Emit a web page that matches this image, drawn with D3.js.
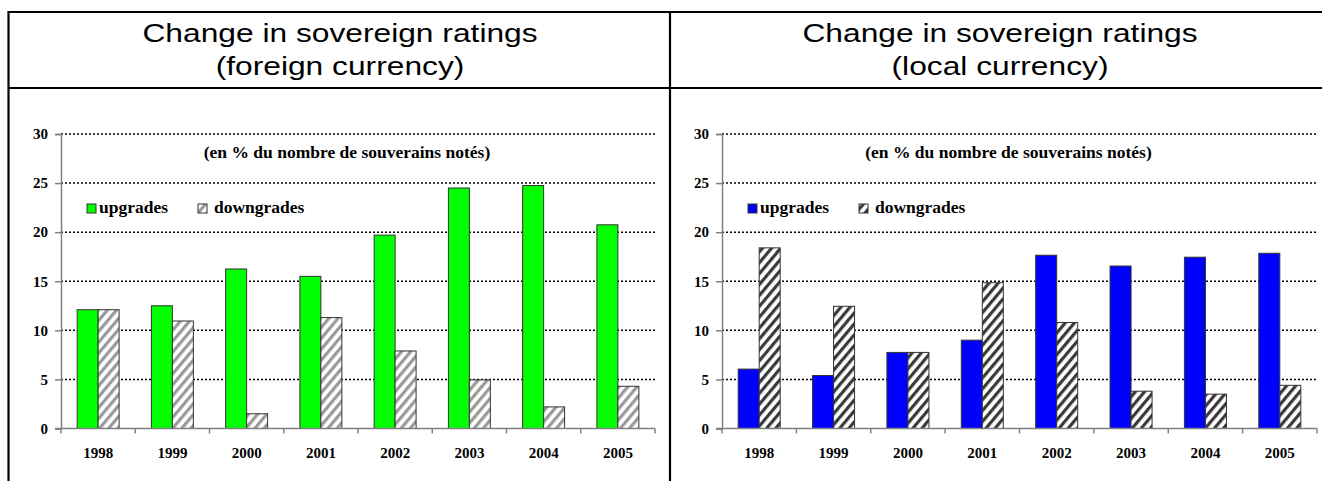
<!DOCTYPE html>
<html>
<head>
<meta charset="utf-8">
<script src="https://cdn.jsdelivr.net/npm/d3@7"></script>
<style>
  html, body { margin: 0; padding: 0; background: #fff; }
  svg { display: block; }
</style>
</head>
<body>
<svg id="chart" width="1322" height="481"></svg>
<script>
// ---------------- DATA ----------------
const years = ["1998", "1999", "2000", "2001", "2002", "2003", "2004", "2005"];
const seriesNames = ["upgrades", "downgrades"];
const foreignUpgrades   = [12.1, 12.5, 16.25, 15.5, 19.7, 24.5, 24.75, 20.75];
const foreignDowngrades = [12.1, 10.95, 1.5, 11.3, 7.9, 4.95, 2.2, 4.3];
const localUpgrades     = [6.05, 5.4, 7.75, 9.0, 17.65, 16.55, 17.45, 17.85];
const localDowngrades   = [18.4, 12.45, 7.75, 14.85, 10.8, 3.8, 3.5, 4.4];
const yTicks = [0, 5, 10, 15, 20, 25, 30];
const titleLine1 = "Change in sovereign ratings";
const foreignTitle2 = "(foreign currency)";
const localTitle2 = "(local currency)";
const subtitle = "(en % du nombre de souverains notés)";

// ---------------- LAYOUT ----------------
const svg = d3.select("#chart");
const serif = "'Liberation Serif', 'Times New Roman', serif";
const sans = "'Liberation Sans', Arial, sans-serif";

const defs = svg.append("defs");
function hatch(id, color) {
  const p = defs.append("pattern")
    .attr("id", id).attr("patternUnits", "userSpaceOnUse")
    .attr("width", 7).attr("height", 7)
    .attr("patternTransform", "rotate(40)");
  p.append("rect").attr("width", 7).attr("height", 7).attr("fill", "#fff");
  p.append("rect").attr("x", 0).attr("y", 0).attr("width", 3.2).attr("height", 7).attr("fill", color);
}
hatch("hatchGrey", "#9a9a9a");
hatch("hatchDark", "#3a3a3a");

const panels = [
  { left: 8, right: 670, axisX: 61, plotRight: 655, titleX: 340,
    title2: foreignTitle2, up: foreignUpgrades, down: foreignDowngrades,
    upColor: "#00ff00", hatch: "url(#hatchGrey)" },
  { left: 670, right: 1330, axisX: 722, plotRight: 1317, titleX: 1000,
    title2: localTitle2, up: localUpgrades, down: localDowngrades,
    upColor: "#0000ff", hatch: "url(#hatchDark)" }
];

const yScale = d3.scaleLinear().domain([0, 30]).range([428.5, 134]);

panels.forEach(P => {
  const g = svg.append("g");

  // titles (horizontally stretched Arial)
  const tg = g.append("g").attr("transform", `translate(${P.titleX},0) scale(1.27,1)`);
  tg.append("text").attr("x", 0).attr("y", 42).attr("text-anchor", "middle")
    .style("font-family", sans).style("font-size", "25px").text(titleLine1);
  tg.append("text").attr("x", 0).attr("y", 75).attr("text-anchor", "middle")
    .style("font-family", sans).style("font-size", "25px").text(P.title2);

  const x0 = d3.scaleBand().domain(years).range([P.axisX, P.plotRight])
    .paddingInner(0.435).paddingOuter(0.2175);
  const x1 = d3.scaleBand().domain(seriesNames).range([0, x0.bandwidth()]);

  // gridlines
  g.append("g").selectAll("line").data(yTicks.filter(d => d > 0)).join("line")
    .attr("x1", P.axisX).attr("x2", P.plotRight)
    .attr("y1", d => yScale(d)).attr("y2", d => yScale(d))
    .attr("stroke", "#000").attr("stroke-width", 1.5).attr("stroke-dasharray", "2,2");

  // y axis
  const yAxis = d3.axisLeft(yScale).tickValues(yTicks).tickSize(6).tickPadding(7);
  const ya = g.append("g").attr("transform", `translate(${P.axisX},0)`).call(yAxis);
  ya.select(".domain").attr("stroke", "#808080").attr("stroke-width", 1.5);
  ya.selectAll(".tick line").attr("stroke", "#808080").attr("stroke-width", 1.5);
  ya.selectAll(".tick text").style("font-family", serif).style("font-size", "15px")
    .style("font-weight", "bold").attr("fill", "#000");

  // subtitle
  g.append("text")
    .attr("x", (P.axisX + P.plotRight) / 2 - 11).attr("y", 158)
    .attr("text-anchor", "middle")
    .style("font-family", serif).style("font-size", "17.5px").style("font-weight", "bold")
    .text(subtitle);

  // bars
  const rows = years.map((y, i) => ({ year: y, vals: [P.up[i], P.down[i]] }));
  const bg = g.append("g");
  rows.forEach(r => {
    r.vals.forEach((v, j) => {
      bg.append("rect")
        .attr("x", x0(r.year) + x1(seriesNames[j]))
        .attr("width", x1.bandwidth())
        .attr("y", yScale(v))
        .attr("height", yScale(0) - yScale(v))
        .attr("fill", j === 0 ? P.upColor : P.hatch)
        .attr("stroke", "#333").attr("stroke-width", 1);
    });
  });

  // x axis
  const xa = d3.axisBottom(x0).tickSize(0).tickPadding(19);
  const xg = g.append("g").attr("transform", `translate(0,${yScale(0)})`).call(xa);
  xg.select(".domain").remove();
  xg.selectAll(".tick text").style("font-family", serif).style("font-size", "15px")
    .style("font-weight", "bold").attr("fill", "#000");
  g.append("line").attr("x1", P.axisX - 6).attr("x2", P.plotRight)
    .attr("y1", yScale(0)).attr("y2", yScale(0))
    .attr("stroke", "#808080").attr("stroke-width", 1.5);
  const boundaries = years.map(y => x0(y) + x0.bandwidth() / 2 - x0.step() / 2)
    .concat([x0(years[years.length - 1]) + x0.bandwidth() / 2 + x0.step() / 2]);
  g.append("g").selectAll("line").data(boundaries).join("line")
    .attr("x1", d => d).attr("x2", d => d)
    .attr("y1", yScale(0)).attr("y2", yScale(0) + 5)
    .attr("stroke", "#808080").attr("stroke-width", 1.5);

  // legend
  const lg = g.append("g");
  const legendItems = [
    { name: seriesNames[0], fill: P.upColor, sx: P.axisX + 26, tx: P.axisX + 38 },
    { name: seriesNames[1], fill: P.hatch, sx: P.axisX + 137, tx: P.axisX + 153 }
  ];
  legendItems.forEach(it => {
    lg.append("rect").attr("x", it.sx).attr("y", 204).attr("width", 9).attr("height", 9)
      .attr("fill", it.fill).attr("stroke", "#333").attr("stroke-width", 1);
    lg.append("text").attr("x", it.tx).attr("y", 213)
      .style("font-family", serif).style("font-size", "17.5px").style("font-weight", "bold")
      .text(it.name);
  });
});

// table borders
const border = svg.append("g").attr("stroke", "#000").attr("stroke-width", 2.2);
border.append("line").attr("x1", 8).attr("x2", 1322).attr("y1", 12).attr("y2", 12);
border.append("line").attr("x1", 8).attr("x2", 1322).attr("y1", 88).attr("y2", 88);
border.append("line").attr("x1", 8.5).attr("x2", 8.5).attr("y1", 11).attr("y2", 481);
border.append("line").attr("x1", 670).attr("x2", 670).attr("y1", 11).attr("y2", 481);
</script>
</body>
</html>
